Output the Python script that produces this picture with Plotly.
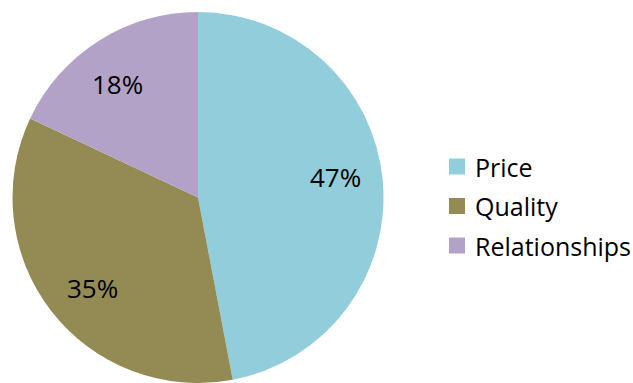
import math
import plotly.graph_objects as go

# Share of purchase drivers
categories = ["Price", "Quality", "Relationships"]
shares = [47, 35, 18]
slice_colors = ["#92CDDC", "#948A54", "#B3A2C7"]

W, H = 633, 383
FONT = "Open Sans"

# pie placement in pixels
pie_left, pie_right = 12.5, 383.5
pie_top, pie_bottom = 12.0, 383.0
cx = (pie_left + pie_right) / 2
cy = (pie_top + pie_bottom) / 2
radius = (pie_bottom - pie_top) / 2
label_frac = 0.75
label_angle_shift = math.radians(-3)


def px(x):
    return x / W


def py(y):
    return 1 - y / H


fig = go.Figure(
    go.Pie(
        labels=categories,
        values=shares,
        sort=False,
        direction="clockwise",
        rotation=0,
        marker=dict(colors=slice_colors, line=dict(width=0)),
        textinfo="none",
        domain=dict(x=[px(pie_left), px(pie_right)], y=[py(pie_bottom), py(pie_top)]),
        hoverinfo="label+percent",
        showlegend=False,
    )
)

# percentage labels placed near each slice's mid-angle
total = sum(shares)
cum = 0
for share in shares:
    mid = (cum + share / 2) / total * 2 * math.pi + label_angle_shift
    cum += share
    lx = cx + label_frac * radius * math.sin(mid)
    ly = cy - label_frac * radius * math.cos(mid)
    fig.add_annotation(
        x=px(lx), y=py(ly), xref="paper", yref="paper",
        text=f"{share}%", showarrow=False,
        xanchor="center", yanchor="middle",
        font=dict(family=FONT, size=26, color="black"),
    )

# legend: colour swatches with category names
leg_sq_left, leg_sq_size = 449, 16
leg_text_left = 473
leg_first_y, leg_step = 166.5, 39.5
for i, (name, color) in enumerate(zip(categories, slice_colors)):
    yc = leg_first_y + i * leg_step
    fig.add_shape(
        type="rect", xref="paper", yref="paper",
        x0=px(leg_sq_left), x1=px(leg_sq_left + leg_sq_size),
        y0=py(yc + leg_sq_size / 2), y1=py(yc - leg_sq_size / 2),
        fillcolor=color, line=dict(width=0),
    )
    fig.add_annotation(
        x=px(leg_text_left), y=py(yc), xref="paper", yref="paper",
        text=name, showarrow=False,
        xanchor="left", yanchor="middle",
        font=dict(family=FONT, size=25, color="black"),
    )

fig.update_layout(
    width=W,
    height=H,
    margin=dict(l=0, r=0, t=0, b=0),
    paper_bgcolor="white",
    plot_bgcolor="white",
    font=dict(family=FONT, color="black"),
)
fig.write_html("out.html")
